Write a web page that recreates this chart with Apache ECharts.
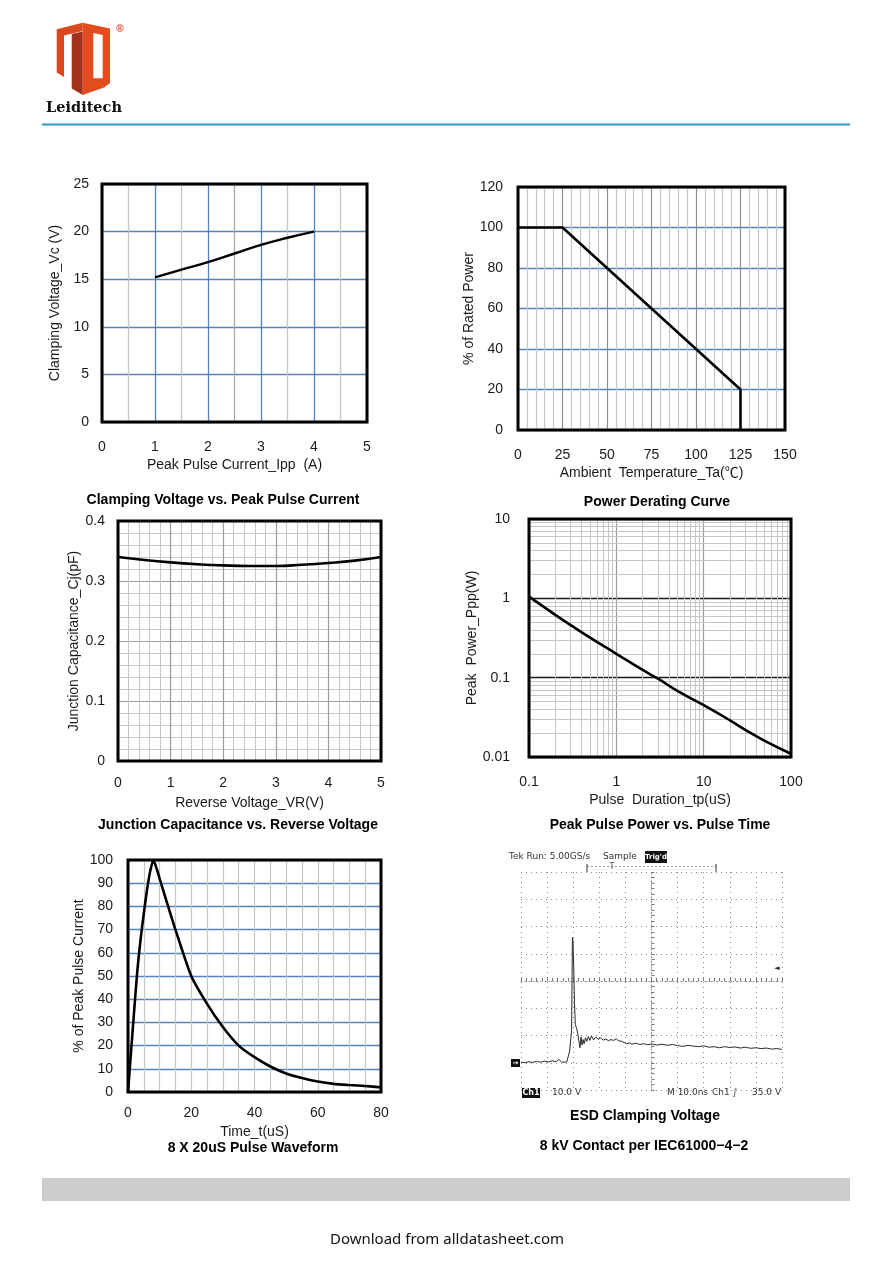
<!DOCTYPE html>
<html>
<head>
<meta charset="utf-8">
<script src="https://cdn.jsdelivr.net/npm/echarts@6/dist/echarts.min.js"></script>
<style>
  html, body { margin: 0; padding: 0; background: #fff; }
  #page { width: 892px; height: 1261px; }
</style>
</head>
<body>
<div id="page"></div>
<script>
// ---- data ----
const ippCurrent = [1, 1.5, 2, 2.5, 3, 3.5, 4]
const clampVoltage = [15.2, 16.0, 16.8, 17.7, 18.6, 19.35, 20.0]

const ambientTemp = [0, 25, 125, 125]
const ratedPower = [100, 100, 20, 0]

const reverseVoltage = [0, 0.5, 1, 1.5, 2, 2.5, 3, 3.5, 4, 4.5, 5]
const junctionCap = [0.340, 0.335, 0.331, 0.328, 0.326, 0.325, 0.325, 0.327, 0.330, 0.334, 0.340]

const pulseDuration = [0.1, 0.2, 0.3, 0.5, 1, 2, 3, 5, 10, 20, 30, 50, 100]
const peakPower = [1.05, 0.62, 0.46, 0.32, 0.2, 0.125, 0.097, 0.068, 0.045, 0.029, 0.022, 0.016, 0.011]

const waveTime = [0, 1, 2, 3, 4, 5, 6, 7, 8, 10, 12, 15, 20, 25, 30, 35, 40, 45, 50, 55, 60, 65, 70, 75, 80]
const wavePercent = [0, 18, 36, 53, 66, 77, 87, 95, 100, 92, 83, 70, 50, 38, 28, 20, 15, 11, 8, 6, 4.5, 3.5, 3, 2.6, 2]

// scope trace: time in ns, voltage in V
const escTime = [0, 1.5, 3, 4.5, 6, 7.5, 9, 10.5, 12, 13.5, 14.5, 15.5, 16.5, 17.5, 18.1, 18.6, 19.1, 19.4, 19.6,
  19.7, 19.9, 20.2, 20.5, 20.8, 21.1, 21.4, 21.8, 22.2, 22.6, 23.0, 23.4, 23.8, 24.2, 24.7, 25.2, 25.8, 26.4, 27,
  27.8, 28.6, 29.5, 30.5, 31.5, 32.5, 33.5, 34.5, 35.5, 36.5, 37.5, 38.5, 39.5, 40.5, 41.5, 42.5, 44, 45.5, 47,
  48.5, 50, 52, 54, 56, 58, 60, 62, 64, 66, 68, 70, 72, 74, 76, 78, 80, 82, 84, 86, 88, 90, 92, 94, 96, 98, 100]
const escVolt = [0.2, 0.0, 0.4, 0.1, 0.5, 0.2, 0.6, 0.3, 0.7, 0.4, 1.2, 0.3, 0.2, 0.3, 0.4, 4, 9, 12, 12.5,
  46, 45, 35, 22, 14, 13.5, 12.4, 13, 8, 5.5, 9.5, 6.5, 8.5, 7, 9.2, 7.8, 9.6, 8.2, 9.8,
  8.4, 9.5, 8.6, 9.1, 8.3, 8.7, 8.1, 8.5, 8.2, 8.8, 8.0, 7.9, 7.4, 7.0, 7.3, 6.8, 7.2, 6.7, 7.0,
  6.6, 6.9, 6.5, 6.8, 6.4, 6.7, 6.3, 6.0, 6.4, 6.1, 5.9, 6.2, 5.7, 5.9, 5.5, 5.9, 5.6, 5.8, 5.4, 5.7, 5.3, 5.5, 5.2, 5.4, 5.0, 5.2, 4.9]

const chartTitles = [
  'Clamping Voltage vs. Peak Pulse Current',
  'Power Derating Curve',
  'Junction Capacitance vs. Reverse Voltage',
  'Peak Pulse Power vs. Pulse Time',
  '8 X 20uS Pulse Waveform',
  'ESD Clamping Voltage',
  '8 kV Contact per IEC61000\u22124\u22122'
]

// ---- layout ----
const FONT = "'Liberation Sans', Arial, 'Noto Sans CJK SC', sans-serif"
const TXT = '#1a1a1a'
const BLUE = '#5583bd'
const GRAY = '#c6c6c6'

const grids = [
  { left: 102, top: 184, width: 265, height: 238 },
  { left: 518, top: 187, width: 267, height: 243 },
  { left: 118, top: 521, width: 263, height: 240 },
  { left: 529, top: 519, width: 262, height: 238 },
  { left: 128, top: 860, width: 253, height: 232 },
  { left: 521, top: 872, width: 261, height: 218 },
  { left: 521, top: 872, width: 261, height: 218 }
]

const label = (margin, extra) => Object.assign({ color: TXT, fontSize: 14, fontFamily: FONT, margin }, extra || {})
const nameStyle = { color: TXT, fontSize: 14, fontFamily: FONT }

const baseAxis = (gridIndex, o) => Object.assign({
  gridIndex,
  type: 'value',
  axisLine: { show: false },
  axisTick: { show: false },
  nameLocation: 'middle',
  nameTextStyle: nameStyle
}, o)

// minor grid lines for the log-log chart, 2..9 in every decade
const logMinor = (from, to) => {
  const out = []
  for (let d = from; d < to; d *= 10) {
    for (let m = 2; m <= 9; m++) out.push(+(m * d).toPrecision(3))
  }
  return out
}

const xAxes = [
  baseAxis(0, {
    min: 0, max: 5, interval: 0.5,
    name: 'Peak Pulse Current_Ipp  (A)', nameGap: 36,
    axisLabel: label(18, { formatter: v => (Number.isInteger(v) ? v : '') }),
    splitLine: { lineStyle: { width: 1.3, color: [BLUE, GRAY, BLUE, GRAY, BLUE, '#a9a9a9', BLUE, GRAY, BLUE, GRAY, BLUE] } }
  }),
  baseAxis(1, {
    min: 0, max: 150, interval: 5,
    name: 'Ambient  Temperature_Ta(\u2103)', nameGap: 36,
    axisLabel: label(18, { formatter: v => (v % 25 === 0 ? v : '') }),
    splitLine: { lineStyle: { width: 1.2, color: ['#8e8e8e', GRAY, GRAY, GRAY, GRAY] } }
  }),
  baseAxis(2, {
    min: 0, max: 5, interval: 1,
    name: 'Reverse Voltage_VR(V)', nameGap: 35,
    axisLabel: label(15),
    splitLine: { lineStyle: { color: '#9c9c9c', width: 1.2 } },
    minorTick: { show: false, splitNumber: 5 },
    minorSplitLine: { show: true, lineStyle: { color: GRAY, width: 1 } }
  }),
  baseAxis(3, {
    type: 'log', logBase: 10, min: 0.1, max: 100,
    name: 'Pulse  Duration_tp(uS)', nameGap: 36,
    axisLabel: label(18),
    splitLine: { lineStyle: { color: '#9c9c9c', width: 1.2 } }
  }),
  baseAxis(4, {
    min: 0, max: 80, interval: 5,
    name: 'Time_t(uS)', nameGap: 33,
    axisLabel: label(14, { formatter: v => (v % 20 === 0 ? v : '') }),
    splitLine: { lineStyle: { color: GRAY, width: 1.2 } }
  }),
  baseAxis(5, {
    min: 0, max: 100, interval: 10,
    axisLabel: { show: false },
    splitLine: { lineStyle: { color: '#8a8a8a', type: [1, 4], width: 1 } }
  }),
  baseAxis(6, {
    min: -50, max: 50, interval: 2,
    axisLine: { show: true, onZero: true, lineStyle: { color: '#8a8a8a', type: [1, 3], width: 1 } },
    axisTick: { show: true, length: 3, inside: true, lineStyle: { color: '#777' } },
    axisLabel: { show: false },
    splitLine: { show: false }
  })
]

const yAxes = [
  baseAxis(0, {
    min: 0, max: 25, interval: 5,
    name: 'Clamping Voltage_Vc (V)', nameGap: 40,
    axisLabel: label(13),
    splitLine: { lineStyle: { color: BLUE, width: 1.3 } }
  }),
  baseAxis(1, {
    min: 0, max: 120, interval: 20,
    name: '% of Rated Power', nameGap: 40,
    axisLabel: label(15),
    splitLine: { lineStyle: { color: BLUE, width: 1.3 } }
  }),
  baseAxis(2, {
    min: 0, max: 0.4, interval: 0.1,
    name: 'Junction Capacitance_Cj(pF)', nameGap: 37,
    axisLabel: label(13),
    splitLine: { lineStyle: { color: '#9c9c9c', width: 1.2 } },
    minorTick: { show: false, splitNumber: 5 },
    minorSplitLine: { show: true, lineStyle: { color: GRAY, width: 1 } }
  }),
  baseAxis(3, {
    type: 'log', logBase: 10, min: 0.01, max: 10,
    name: 'Peak  Power_Ppp(W)', nameGap: 38,
    axisLabel: label(19),
    splitLine: { lineStyle: { color: '#1a1a1a', width: 1.3 } }
  }),
  baseAxis(4, {
    min: 0, max: 100, interval: 10,
    name: '% of Peak Pulse Current', nameGap: 39,
    axisLabel: label(15),
    splitLine: { lineStyle: { color: BLUE, width: 1.3 } }
  }),
  baseAxis(5, {
    min: -10, max: 70, interval: 10,
    axisLabel: { show: false },
    splitLine: { lineStyle: { color: '#8a8a8a', type: [1, 4], width: 1 } }
  }),
  baseAxis(6, {
    min: -40, max: 40, interval: 2,
    axisLine: { show: true, onZero: true, lineStyle: { color: '#8a8a8a', type: [1, 3], width: 1 } },
    axisTick: { show: true, length: 3, inside: true, lineStyle: { color: '#777' } },
    axisLabel: { show: false },
    splitLine: { show: false }
  })
]

const zip = (xs, ys) => xs.map((x, i) => [x, ys[i]])
const curve = (idx, xs, ys, smooth, width) => ({
  type: 'line', xAxisIndex: idx, yAxisIndex: idx,
  data: zip(xs, ys), smooth, showSymbol: false, z: 5,
  lineStyle: { color: '#000', width: width || 2.4 }
})

const minorLine = { symbol: ['none', 'none'], silent: true, animation: false, label: { show: false },
  lineStyle: { color: GRAY, type: 'solid', width: 1 } }

const series = [
  curve(0, ippCurrent, clampVoltage, true),
  curve(1, ambientTemp, ratedPower, false, 2.6),
  curve(2, reverseVoltage, junctionCap, true, 2.6),
  curve(3, pulseDuration, peakPower, true, 2.6),
  {
    // log-axis minor grid
    type: 'line', xAxisIndex: 3, yAxisIndex: 3, z: 1,
    data: zip(pulseDuration, peakPower), showSymbol: false, lineStyle: { opacity: 0 },
    markLine: Object.assign({
      data: logMinor(0.1, 100).map(v => ({ xAxis: v }))
        .concat(logMinor(0.01, 10).map(v => ({ yAxis: v })))
    }, minorLine)
  },
  curve(4, waveTime, wavePercent, 0.2, 2.6),
  {
    type: 'line', xAxisIndex: 5, yAxisIndex: 5,
    data: zip(escTime, escVolt), showSymbol: false, z: 5,
    lineStyle: { color: '#2a2a2a', width: 1 }
  }
]

// frames round the five plots
const frames = grids.slice(0, 5).map(g => ({
  type: 'rect', z: 50, silent: true,
  shape: { x: g.left, y: g.top, width: g.width, height: g.height },
  style: { fill: 'none', stroke: '#000', lineWidth: 3 }
}))

const caption = (text, x, y) => ({
  type: 'text', z: 50, x, y,
  style: { text, fill: '#000', font: `bold 14px ${FONT}`, align: 'center', verticalAlign: 'middle' }
})
const scopeText = (text, x, y, o) => ({
  type: 'text', z: 50, x, y,
  style: Object.assign({ text, fill: '#333', font: "9px 'DejaVu Sans', sans-serif", verticalAlign: 'middle' }, o || {})
})

const graphic = [
  // logo
  { type: 'polygon', shape: { points: [[56.7, 29.3], [82.7, 22.7], [82.7, 31], [64, 35.5], [64, 77], [56.7, 72.5]] }, style: { fill: '#d9481e' } },
  { type: 'polygon', shape: { points: [[82.7, 22.7], [110, 28.5], [110, 83], [104, 87.5], [82.7, 95]] }, style: { fill: '#e34c1d' } },
  { type: 'polygon', shape: { points: [[71.7, 34], [82.7, 31.5], [82.7, 95], [71.7, 88.5]] }, style: { fill: '#a3301b' } },
  { type: 'polygon', shape: { points: [[93.3, 33], [102.7, 35], [102.7, 78.3], [93.3, 78.3]] }, style: { fill: '#fff' } },
  { type: 'text', x: 120, y: 29, style: { text: '\u00ae', fill: '#d9481e', font: `bold 10px ${FONT}`, align: 'center', verticalAlign: 'middle' } },
  { type: 'text', x: 84, y: 108, style: { text: 'Leiditech', fill: '#111', font: "bold 14.5px 'DejaVu Serif', serif", align: 'center', verticalAlign: 'middle' } },
  // header rule and footer band
  { type: 'line', shape: { x1: 42, y1: 124.5, x2: 850, y2: 124.5 }, style: { stroke: '#2f95d6', lineWidth: 2.2 } },
  { type: 'rect', shape: { x: 42, y: 1178, width: 808, height: 23 }, style: { fill: '#cccccc' } },
  { type: 'text', x: 447, y: 1240, style: { text: 'Download from alldatasheet.com', fill: '#111', font: "15px 'Noto Sans', sans-serif", align: 'center', verticalAlign: 'middle' } },
  // captions
  caption(chartTitles[0], 223, 500),
  caption(chartTitles[1], 657, 502),
  caption(chartTitles[2], 238, 825),
  caption(chartTitles[3], 660, 825),
  caption(chartTitles[4], 253, 1148),
  caption(chartTitles[5], 645, 1116),
  caption(chartTitles[6], 644, 1146),
  // oscilloscope annotations
  scopeText('Tek Run: 5.00GS/s', 509, 857),
  scopeText('Sample', 603, 857),
  { type: 'rect', z: 50, shape: { x: 645, y: 851, width: 22, height: 12 }, style: { fill: '#111' } },
  scopeText("Trig'd", 656, 857, { fill: '#fff', font: "bold 7px 'DejaVu Sans', sans-serif", align: 'center' }),
  { type: 'line', z: 50, shape: { x1: 587, y1: 866.5, x2: 716, y2: 866.5 }, style: { stroke: '#999', lineWidth: 1, lineDash: [2, 2] } },
  { type: 'line', z: 50, shape: { x1: 587, y1: 864, x2: 587, y2: 872 }, style: { stroke: '#333', lineWidth: 1 } },
  { type: 'line', z: 50, shape: { x1: 716, y1: 864, x2: 716, y2: 872 }, style: { stroke: '#333', lineWidth: 1 } },
  scopeText('T', 612, 867, { align: 'center', fill: '#555', font: "8px 'DejaVu Sans', sans-serif" }),
  { type: 'rect', z: 50, shape: { x: 522, y: 1088, width: 18, height: 10 }, style: { fill: '#111' } },
  scopeText('Ch1', 531, 1093, { fill: '#fff', font: "bold 8px 'DejaVu Sans', sans-serif", align: 'center' }),
  scopeText('10.0 V', 552, 1093),
  scopeText('M 10.0ns', 667, 1093),
  scopeText('Ch1 \u222b', 712, 1093),
  scopeText('35.0 V', 752, 1093),
  { type: 'rect', z: 50, shape: { x: 511, y: 1059, width: 9, height: 8 }, style: { fill: '#111' } },
  scopeText('\u2192', 515.5, 1063, { fill: '#fff', font: "bold 7px 'DejaVu Sans', sans-serif", align: 'center' }),
  scopeText('\u25c4', 777, 968, { fill: '#222', font: "7px 'DejaVu Sans', sans-serif", align: 'center' })
].concat(frames)

const chart = echarts.init(document.getElementById('page'))
chart.setOption({
  animation: false,
  backgroundColor: '#fff',
  grid: grids,
  xAxis: xAxes,
  yAxis: yAxes,
  series,
  graphic
})
</script>
</body>
</html>
